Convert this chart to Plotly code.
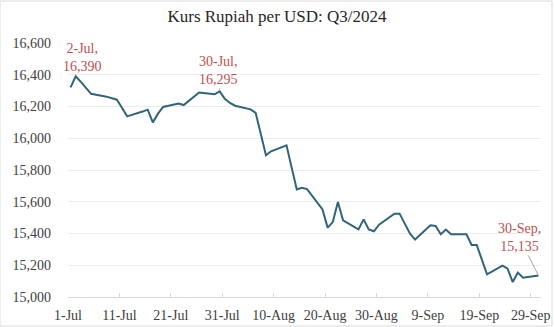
import plotly.graph_objects as go
import pandas as pd

# Daily JISDOR-style IDR/USD rate, Q3 2024 (trading days)
dates = [
    "2024-07-01", "2024-07-02", "2024-07-03", "2024-07-04", "2024-07-05",
    "2024-07-08", "2024-07-09", "2024-07-10", "2024-07-11", "2024-07-12",
    "2024-07-15", "2024-07-16", "2024-07-17", "2024-07-18", "2024-07-19",
    "2024-07-22", "2024-07-23", "2024-07-24", "2024-07-25", "2024-07-26",
    "2024-07-29", "2024-07-30", "2024-07-31", "2024-08-01", "2024-08-02",
    "2024-08-05", "2024-08-06", "2024-08-07", "2024-08-08", "2024-08-09",
    "2024-08-12", "2024-08-13", "2024-08-14", "2024-08-15", "2024-08-16",
    "2024-08-19", "2024-08-20", "2024-08-21", "2024-08-22", "2024-08-23",
    "2024-08-26", "2024-08-27", "2024-08-28", "2024-08-29", "2024-08-30",
    "2024-09-02", "2024-09-03", "2024-09-04", "2024-09-05", "2024-09-06",
    "2024-09-09", "2024-09-10", "2024-09-11", "2024-09-12", "2024-09-13",
    "2024-09-16", "2024-09-17", "2024-09-18", "2024-09-19", "2024-09-20",
    "2024-09-23", "2024-09-24", "2024-09-25", "2024-09-26", "2024-09-27",
    "2024-09-30",
]
rates = [
    16320, 16390, 16355, 16318, 16280,
    16262, 16252, 16243, 16192, 16138,
    16168, 16180, 16100, 16155, 16197,
    16218, 16209, 16235, 16262, 16288,
    16277, 16295, 16248, 16222, 16205,
    16182, 16160, 16020, 15893, 15918,
    15955, 15815, 15677, 15688, 15680,
    15552, 15437, 15472, 15598, 15483,
    15426, 15489, 15425, 15414, 15456,
    15525, 15525, 15462, 15400, 15362,
    15452, 15447, 15395, 15425, 15395,
    15395, 15328, 15328, 15235, 15143,
    15197, 15179, 15094, 15154, 15122,
    15135,
]

tick_dates = ["2024-07-01", "2024-07-11", "2024-07-21", "2024-07-31", "2024-08-10",
              "2024-08-20", "2024-08-30", "2024-09-09", "2024-09-19", "2024-09-29"]
tick_labels = ["1-Jul", "11-Jul", "21-Jul", "31-Jul", "10-Aug",
               "20-Aug", "30-Aug", "9-Sep", "19-Sep", "29-Sep"]
y_ticks = [15000, 15200, 15400, 15600, 15800, 16000, 16200, 16400, 16600]
y_labels = [f"{v:,}" for v in y_ticks]

# callouts: (date, value, text offset x, text offset y, leader line shown)
callouts = [
    ("2024-07-02", 16390, 7, -19, False),
    ("2024-07-30", 16295, -1, -21, True),
    ("2024-09-30", 15135, -19, -38, True),
]

# each day occupies one slot; points sit at the middle of their day
x_mid = pd.to_datetime(dates) + pd.Timedelta(hours=12)
value_of = dict(zip(dates, rates))

serif = "Liberation Serif, Times New Roman, serif"
red = "#C0504D"

fig = go.Figure()
fig.add_trace(go.Scatter(
    x=x_mid, y=rates, mode="lines",
    line=dict(color="#2F6479", width=2),
    hoverinfo="skip",
))

for d, v, ax, ay, leader in callouts:
    label = f"{pd.Timestamp(d).day}-{pd.Timestamp(d).strftime('%b')},<br>{value_of[d]:,}"
    fig.add_annotation(
        x=pd.Timestamp(d) + pd.Timedelta(hours=12), y=value_of[d],
        text=label, showarrow=True, ax=ax, ay=ay,
        arrowhead=0, arrowwidth=1,
        arrowcolor="#A6A6A6" if leader else "rgba(0,0,0,0)",
        standoff=1,
        font=dict(family=serif, size=14, color=red),
        align="center",
    )

fig.update_layout(
    width=554, height=327,
    margin=dict(l=68, r=13, t=43, b=30),
    paper_bgcolor="white", plot_bgcolor="white",
    showlegend=False,
    title=dict(text="Kurs Rupiah per USD: Q3/2024", x=0.5, xanchor="center",
               y=1 - 16 / 327, yanchor="middle",
               font=dict(family=serif, size=17, color="#262626")),
    font=dict(family=serif, size=14, color="#404040"),
)
fig.update_xaxes(
    type="date", range=["2024-07-01", "2024-10-01"],
    tickvals=pd.to_datetime(tick_dates), ticktext=tick_labels,
    showgrid=False, showline=True, linecolor="#D9D9D9", linewidth=1,
    ticks="inside", ticklen=4, tickcolor="#D9D9D9",
    ticklabelstandoff=5, zeroline=False, automargin=False,
)
fig.update_yaxes(
    range=[15000, 16600], tickvals=y_ticks, ticktext=y_labels,
    showgrid=True, gridcolor="#ECECEC", gridwidth=1,
    showline=False, ticks="", zeroline=False, ticklabelstandoff=16,
    automargin=False,
)
# light frame around the whole chart
fig.add_shape(type="rect", xref="paper", yref="paper",
              x0=-68 / 473, x1=1 + 11 / 473, y0=-29 / 254, y1=1 + 42 / 254,
              line=dict(color="#D9D9D9", width=1), fillcolor="rgba(0,0,0,0)")

fig.write_html("out.html")
